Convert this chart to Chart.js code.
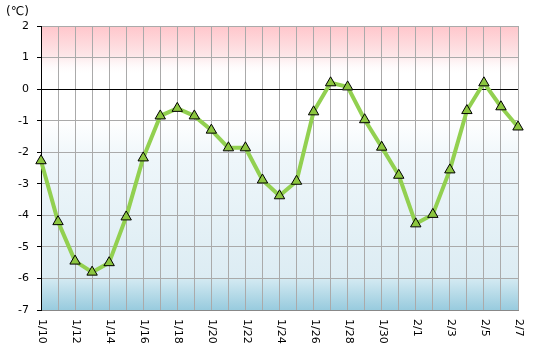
<!DOCTYPE html>
<html>
<head>
<meta charset="utf-8">
<script src="https://cdn.jsdelivr.net/npm/chart.js@4/dist/chart.umd.min.js"></script>
<style>
html,body{margin:0;padding:0;background:#fff;}
#wrap{width:539px;height:354px;position:relative;}
</style>
</head>
<body>
<div id="wrap"><canvas id="c" width="539" height="354"></canvas></div>
<script>
const dates = ['1/10','1/11','1/12','1/13','1/14','1/15','1/16','1/17','1/18','1/19','1/20','1/21','1/22','1/23','1/24','1/25','1/26','1/27','1/28','1/29','1/30','1/31','2/1','2/2','2/3','2/4','2/5','2/6','2/7'];
const temps = [-2.27,-4.2,-5.45,-5.8,-5.5,-4.05,-2.18,-0.85,-0.61,-0.85,-1.3,-1.86,-1.86,-2.88,-3.38,-2.92,-0.72,0.2,0.07,-0.97,-1.84,-2.73,-4.27,-3.97,-2.56,-0.68,0.2,-0.56,-1.2];
const unitLabel = '(℃)';
const yMin = -7, yMax = 2;

const FONT = '"DejaVu Sans", Verdana, sans-serif';

const bgPlugin = {
  id: 'bg',
  beforeDraw(chart) {
    const {ctx, chartArea: a, scales: {y}} = chart;
    ctx.save();
    ctx.fillStyle = '#ffffff';
    ctx.fillRect(a.left, a.top, a.right - a.left, a.bottom - a.top);
    // pink band
    let y1 = y.getPixelForValue(2), y2 = y.getPixelForValue(0.45);
    let g = ctx.createLinearGradient(0, y1, 0, y2);
    g.addColorStop(0, '#ffc6cb'); g.addColorStop(0.6, '#fde6e8'); g.addColorStop(1, 'rgba(255,255,255,0)');
    ctx.fillStyle = g; ctx.fillRect(a.left, y1, a.right - a.left, y2 - y1);
    // light blue
    y1 = y.getPixelForValue(-1); y2 = y.getPixelForValue(-6);
    g = ctx.createLinearGradient(0, y1, 0, y2);
    g.addColorStop(0, '#ffffff'); g.addColorStop(0.25, '#eef6fa'); g.addColorStop(1, '#dcecf3');
    ctx.fillStyle = g; ctx.fillRect(a.left, y1, a.right - a.left, y2 - y1);
    // stronger blue
    y1 = y.getPixelForValue(-6); y2 = y.getPixelForValue(-7);
    g = ctx.createLinearGradient(0, y1, 0, y2);
    g.addColorStop(0, '#d4eaf2'); g.addColorStop(1, '#98cbde');
    ctx.fillStyle = g; ctx.fillRect(a.left, y1, a.right - a.left, y2 - y1);
    ctx.restore();
  },
  afterDraw(chart) {
    const {ctx, chartArea: a, scales: {x}} = chart;
    ctx.save();
    ctx.fillStyle = '#000';
    ctx.textAlign = 'left';
    ctx.textBaseline = 'middle';
    ctx.font = '12px ' + FONT;
    ctx.fillText(unitLabel, 6, 12);
    ctx.font = '11px ' + FONT;
    dates.forEach((d, i) => {
      if (i % 2 !== 0) return;
      const px = x.getPixelForValue(i);
      ctx.save();
      ctx.translate(px + 1, a.bottom + 9);
      ctx.rotate(Math.PI / 2);
      ctx.fillText(d, 0, 0);
      ctx.restore();
    });
    ctx.restore();
  }
};

new Chart(document.getElementById('c'), {
  type: 'line',
  data: {
    labels: dates,
    datasets: [{
      data: temps,
      borderColor: '#92d050',
      borderWidth: 4,
      borderJoinStyle: 'round',
      pointStyle: 'triangle',
      pointRadius: 6,
      pointHoverRadius: 6,
      pointBackgroundColor: '#8cc63f',
      pointBorderColor: '#000000',
      pointBorderWidth: 1,
      tension: 0
    }]
  },
  options: {
    responsive: false,
    animation: false,
    events: [],
    layout: {padding: {left: 0, right: 21, top: 26, bottom: 44}},
    plugins: {legend: {display: false}, tooltip: {enabled: false}, title: {display: false}},
    scales: {
      x: {
        offset: false,
        ticks: {display: false},
        grid: {color: '#aaaaaa', drawTicks: false, offset: false, lineWidth: 1},
        border: {color: '#888888'},
        afterFit(s) { s.height = 0; }
      },
      y: {
        min: yMin, max: yMax,
        ticks: {stepSize: 1, color: '#000', padding: 8, font: {family: FONT, size: 11}},
        grid: {
          color: c => (c.tick && c.tick.value === 0) ? '#000000' : '#aaaaaa',
          tickColor: '#000000', tickLength: 4, lineWidth: 1
        },
        border: {color: '#000000'},
        afterFit(s) { s.width = 41; }
      }
    }
  },
  plugins: [bgPlugin]
});
</script>
</body>
</html>
